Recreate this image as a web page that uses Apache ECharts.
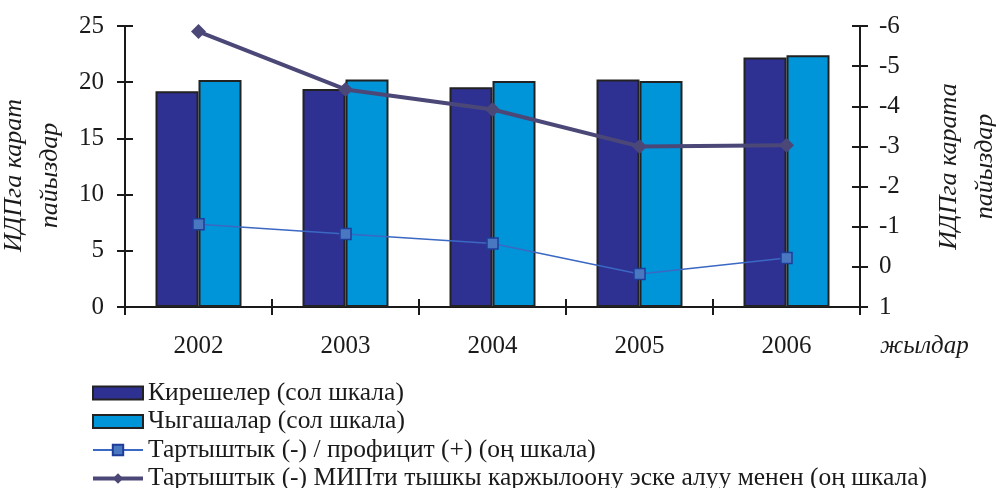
<!DOCTYPE html>
<html><head><meta charset="utf-8">
<script src="https://cdn.jsdelivr.net/npm/echarts@6/dist/echarts.min.js"></script>
<style>html,body{margin:0;padding:0;background:#fff}#c{width:996px;height:488px}</style>
</head><body><div id="c"></div>
<script>
const categories = ['2002','2003','2004','2005','2006'];
const revenues = [19.2, 19.4, 19.55, 20.25, 22.2];
const expenditures = [20.2, 20.25, 20.1, 20.1, 22.4];
const balance = [-1.06, -0.82, -0.58, 0.18, -0.22];
const balanceExPIP = [-5.86, -4.42, -3.92, -3.0, -3.03];
const leftTicks = [0, 25, 5];
const rightTicks = [-6, 1, 1];
const names = ['Кирешелер (сол шкала)','Чыгашалар (сол шкала)','Тартыштык (-) / профицит (+) (оң шкала)','Тартыштык (-) МИПти тышкы каржылоону эске алуу менен (оң шкала)'];

const F = 'Liberation Serif';
const axisCol = '#1a1a1a';
const chart = echarts.init(document.getElementById('c'));
const baseY = {type:'value', axisLine:{show:true,onZero:false,lineStyle:{color:axisCol,width:2}}, splitLine:{show:false}};
chart.setOption({
  animation:false,
  grid:{left:125,right:136,top:26,bottom:181,containLabel:false,outerBoundsMode:'none'},
  legend:{orient:'vertical',left:86,top:375,height:130,itemWidth:50,itemHeight:13,itemGap:2.5,
    textStyle:{fontFamily:F,fontSize:25.5,color:'#1a1a1a',lineHeight:26},
    data:[{name:names[0],icon:'rect'},{name:names[1],icon:'rect'},
      {name:names[2],lineStyle:{width:2}},
      {name:names[3],lineStyle:{width:4}}]},
  xAxis:[{type:'category',data:categories,
    axisLine:{onZero:false,lineStyle:{color:axisCol,width:2}},
    axisTick:{show:true,length:8,lineStyle:{color:axisCol,width:2}},
    axisLabel:{fontFamily:F,fontSize:25,color:'#1a1a1a',margin:27}},
    {type:'category',data:categories,position:'bottom',offset:0,
    axisLine:{show:false,onZero:false},
    axisTick:{show:true,inside:true,length:8,lineStyle:{color:axisCol,width:2}},
    axisLabel:{show:false}}],
  yAxis:[
    Object.assign({},baseY,{min:leftTicks[0],max:leftTicks[1],interval:leftTicks[2],position:'left',offset:0,
      axisTick:{show:true,length:8,lineStyle:{color:axisCol,width:2}},
      axisLabel:{fontFamily:F,fontSize:25,color:'#1a1a1a',margin:21},
      name:'ИДПга карат\nпайыздар',nameLocation:'middle',nameGap:35,
      nameTextStyle:{fontFamily:F,fontSize:26,fontStyle:'italic',color:'#1a1a1a',lineHeight:36,padding:[0,18,0,0]}}),
    Object.assign({},baseY,{min:rightTicks[0],max:rightTicks[1],interval:rightTicks[2],inverse:true,position:'right',offset:0,
      axisTick:{show:true,length:8,lineStyle:{color:axisCol,width:2}},
      axisLabel:{fontFamily:F,fontSize:25,color:'#1a1a1a',margin:19},
      name:'ИДПга карата\nпайыздар',nameLocation:'middle',nameGap:71,nameRotate:90,
      nameTextStyle:{fontFamily:F,fontSize:26,fontStyle:'italic',color:'#1a1a1a',lineHeight:36}}),
    Object.assign({},baseY,{min:leftTicks[0],max:leftTicks[1],interval:leftTicks[2],position:'left',offset:0,
      axisTick:{show:true,inside:true,length:8,lineStyle:{color:axisCol,width:2}},axisLabel:{show:false}}),
    Object.assign({},baseY,{min:rightTicks[0],max:rightTicks[1],interval:rightTicks[2],inverse:true,position:'right',offset:0,
      axisTick:{show:true,inside:true,length:8,lineStyle:{color:axisCol,width:2}},axisLabel:{show:false}})
  ],
  graphic:[{type:'text',left:880,top:334,style:{text:'жылдар',fontFamily:F,fontSize:25,fontStyle:'italic',fill:'#1a1a1a'}}],
  series:[
    {name:names[0],type:'bar',data:revenues,barWidth:43,barGap:'0%',yAxisIndex:0,
      itemStyle:{color:'#2E3192',borderColor:'#222',borderWidth:2}},
    {name:names[1],type:'bar',data:expenditures,barWidth:43,barGap:'0%',yAxisIndex:0,
      itemStyle:{color:'#0095D9',borderColor:'#222',borderWidth:2}},
    {name:names[2],type:'line',data:balance,yAxisIndex:1,symbol:'rect',symbolSize:11,
      lineStyle:{color:'#3B68C2',width:1.5},itemStyle:{color:'#4A78C0',borderColor:'#1F3C99',borderWidth:1.5},z:5},
    {name:names[3],type:'line',data:balanceExPIP,yAxisIndex:1,symbol:'diamond',symbolSize:15,
      lineStyle:{color:'#4B4878',width:4},itemStyle:{color:'#4B4878'},z:6}
  ]
});
</script></body></html>
